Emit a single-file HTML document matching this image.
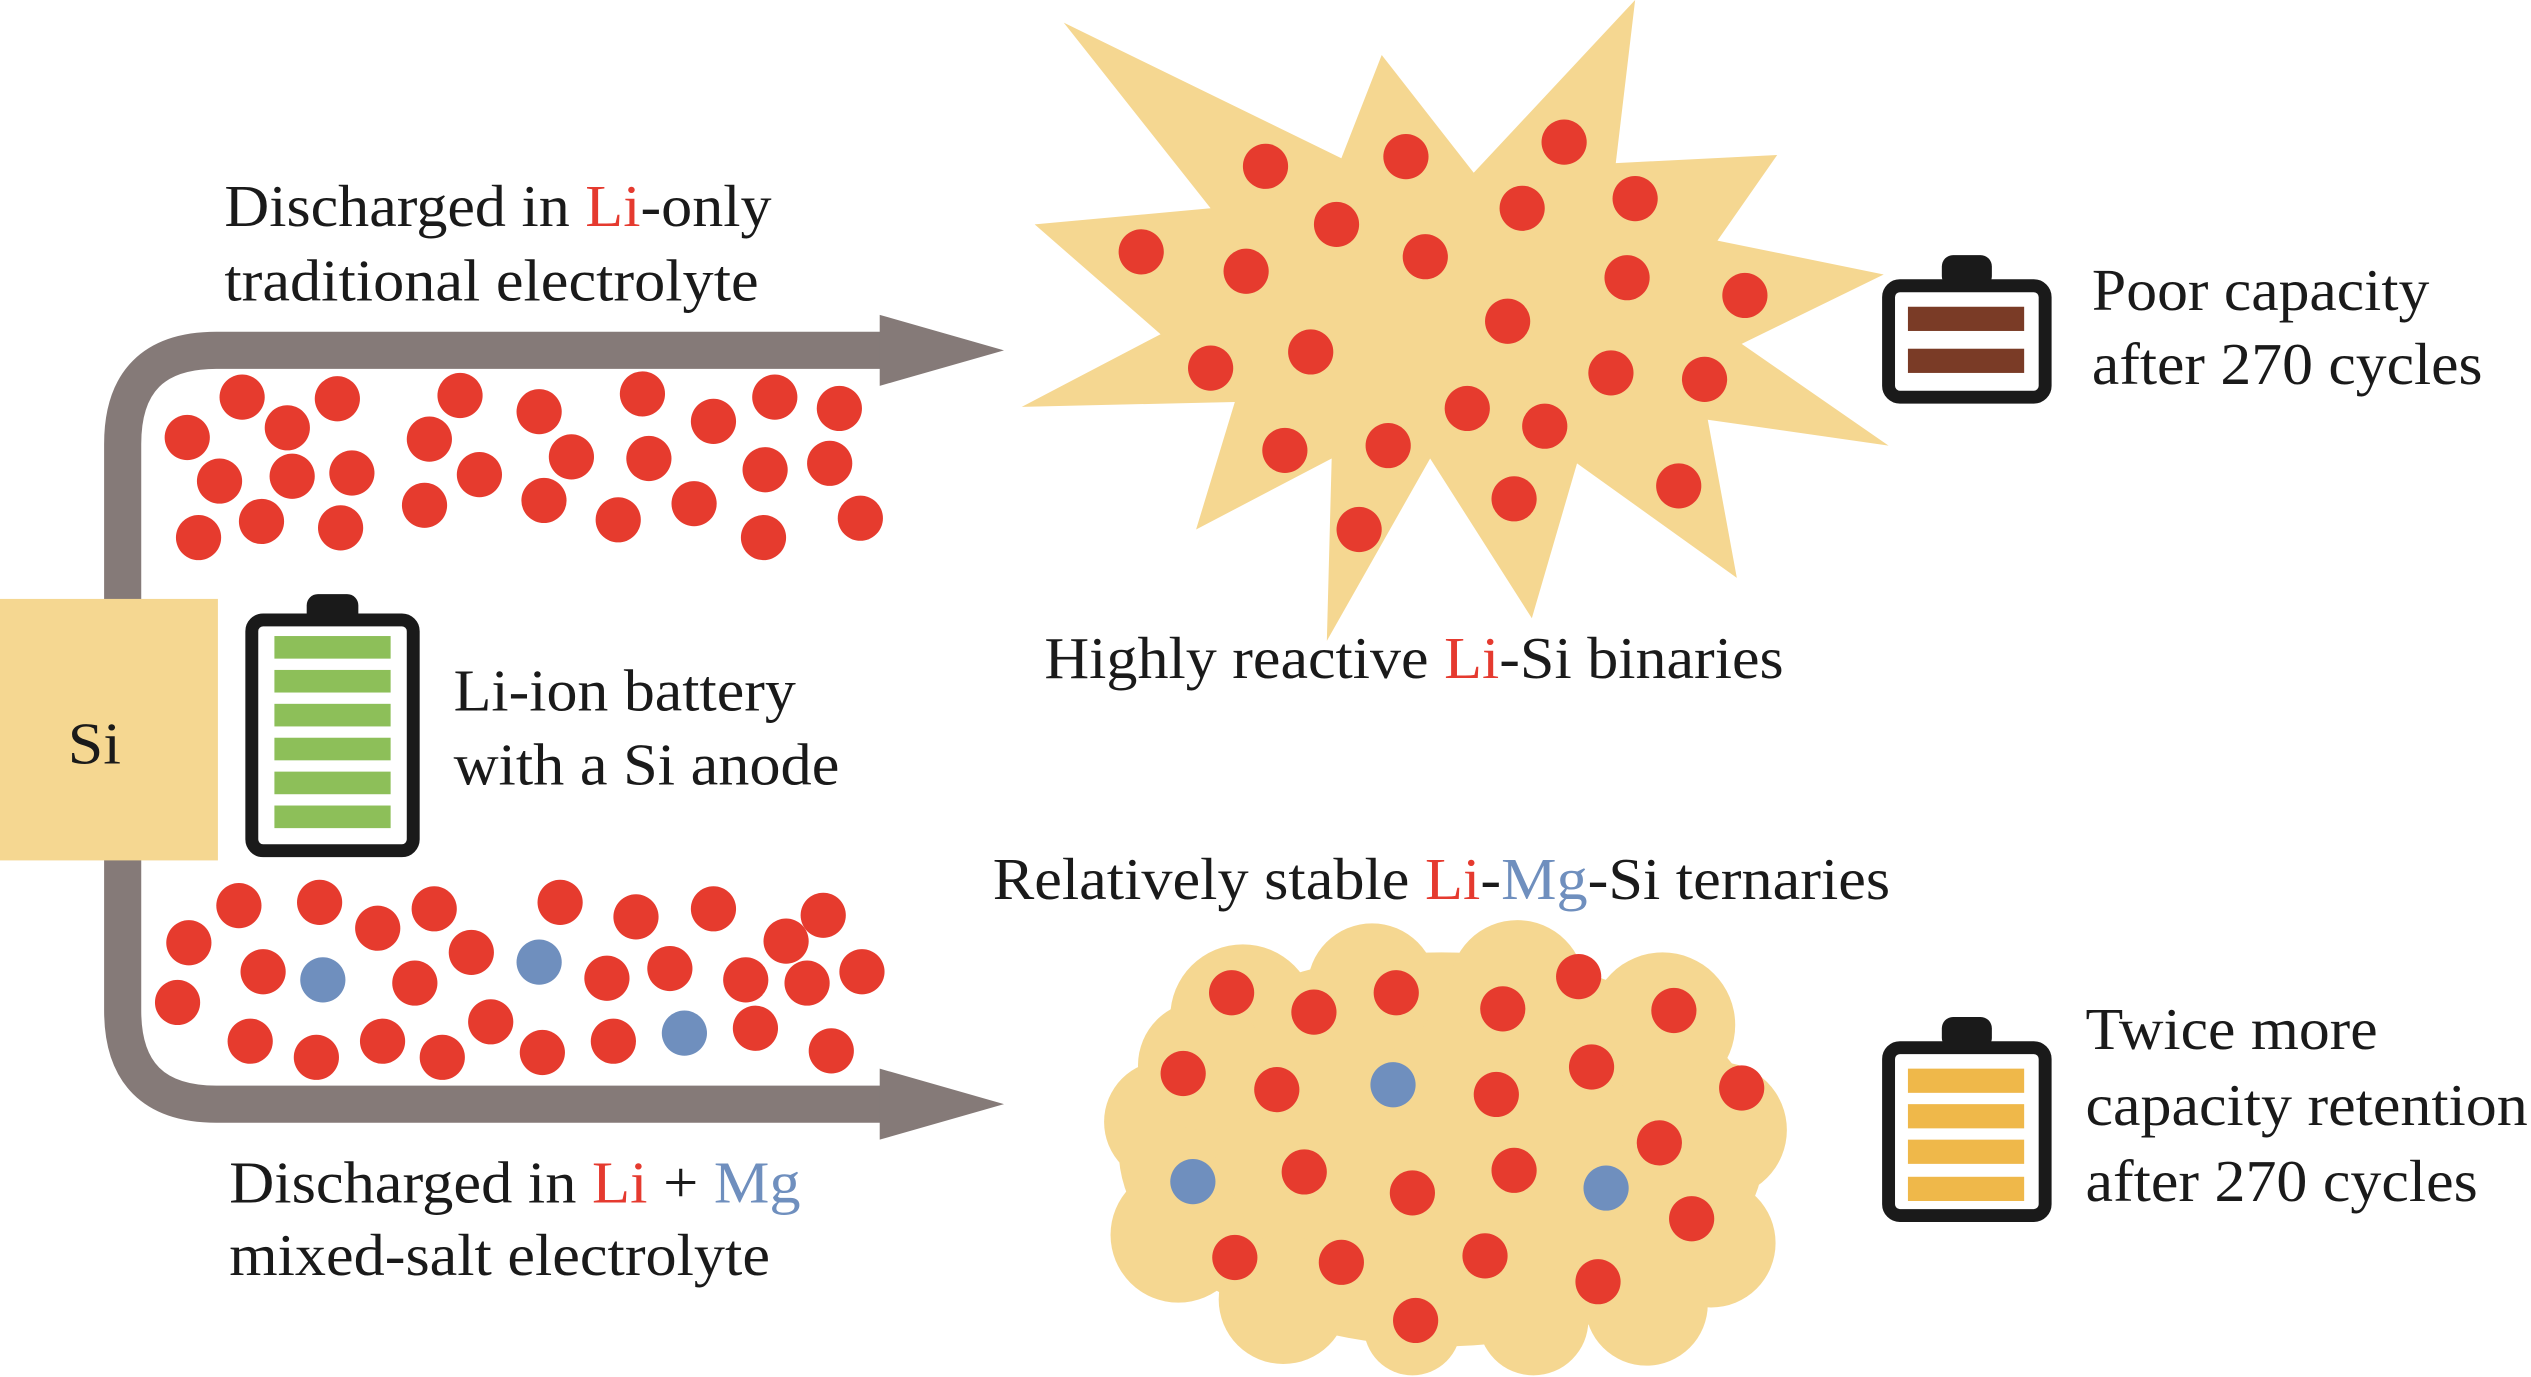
<!DOCTYPE html>
<html><head><meta charset="utf-8"><style>
html,body{margin:0;padding:0;background:#fff;width:2531px;height:1377px;overflow:hidden}
svg{display:block}
text{font-family:"Liberation Serif",serif;font-size:37px;fill:#1a1a1a}
.r{fill:#e53a2f}.b{fill:#6f8fbe}
</style></head><body>
<svg width="2531" height="1377" viewBox="0 0 1568 853" xmlns="http://www.w3.org/2000/svg">
<path d="M76 380 V275 Q76 217 134 217 H548 M548 684 H134 Q76 684 76 626 V520" fill="none" stroke="#857a78" stroke-width="23"/>
<polygon points="545,195 622,217 545,239" fill="#857a78"/>
<polygon points="545,662 622,684 545,706" fill="#857a78"/>
<rect x="0" y="371" width="135" height="162" fill="#f5d791"/>
<text x="42" y="473" font-size="35" textLength="33" lengthAdjust="spacingAndGlyphs">Si</text>
<rect x="190" y="368" width="32" height="20" rx="7" fill="#1a1a1a"/>
<rect x="156" y="384" width="100" height="143" rx="7" fill="#fff" stroke="#1a1a1a" stroke-width="8"/>
<g fill="#8dbf59">
<rect x="170" y="394" width="72" height="14"/><rect x="170" y="415" width="72" height="14"/><rect x="170" y="436" width="72" height="14"/><rect x="170" y="457" width="72" height="14"/><rect x="170" y="478" width="72" height="14"/><rect x="170" y="499" width="72" height="14"/>
</g>
<text x="281" y="440" textLength="212" lengthAdjust="spacingAndGlyphs">Li-ion battery</text>
<text x="281" y="486" textLength="239" lengthAdjust="spacingAndGlyphs">with a Si anode</text>
<text x="139" y="140" textLength="339" lengthAdjust="spacingAndGlyphs">Discharged in <tspan class="r">Li</tspan>-only</text>
<text x="139" y="186" textLength="331" lengthAdjust="spacingAndGlyphs">traditional electrolyte</text>
<text x="142" y="745" textLength="354" lengthAdjust="spacingAndGlyphs">Discharged in <tspan class="r">Li</tspan> + <tspan class="b">Mg</tspan></text>
<text x="142" y="790" textLength="335" lengthAdjust="spacingAndGlyphs">mixed-salt electrolyte</text>
<g fill="#e63b2e">
<circle cx="150" cy="246" r="14"/><circle cx="209" cy="247" r="14"/><circle cx="178" cy="265" r="14"/><circle cx="116" cy="271" r="14"/><circle cx="136" cy="298" r="14"/><circle cx="181" cy="295" r="14"/><circle cx="218" cy="293" r="14"/><circle cx="123" cy="333" r="14"/><circle cx="162" cy="323" r="14"/><circle cx="211" cy="327" r="14"/><circle cx="285" cy="245" r="14"/><circle cx="334" cy="255" r="14"/><circle cx="266" cy="272" r="14"/><circle cx="297" cy="294" r="14"/><circle cx="354" cy="283" r="14"/><circle cx="263" cy="313" r="14"/><circle cx="337" cy="310" r="14"/><circle cx="383" cy="322" r="14"/><circle cx="398" cy="244" r="14"/><circle cx="442" cy="261" r="14"/><circle cx="402" cy="284" r="14"/><circle cx="430" cy="312" r="14"/><circle cx="480" cy="246" r="14"/><circle cx="520" cy="253" r="14"/><circle cx="474" cy="291" r="14"/><circle cx="514" cy="287" r="14"/><circle cx="473" cy="333" r="14"/><circle cx="533" cy="321" r="14"/>
<circle cx="148" cy="561" r="14"/><circle cx="198" cy="559" r="14"/><circle cx="117" cy="584" r="14"/><circle cx="234" cy="575" r="14"/><circle cx="269" cy="563" r="14"/><circle cx="292" cy="590" r="14"/><circle cx="163" cy="602" r="14"/><circle cx="257" cy="609" r="14"/><circle cx="110" cy="621" r="14"/><circle cx="155" cy="645" r="14"/><circle cx="196" cy="655" r="14"/><circle cx="237" cy="645" r="14"/><circle cx="274" cy="655" r="14"/><circle cx="304" cy="633" r="14"/><circle cx="347" cy="559" r="14"/><circle cx="376" cy="606" r="14"/><circle cx="336" cy="652" r="14"/><circle cx="394" cy="568" r="14"/><circle cx="415" cy="600" r="14"/><circle cx="380" cy="645" r="14"/><circle cx="442" cy="563" r="14"/><circle cx="487" cy="583" r="14"/><circle cx="510" cy="567" r="14"/><circle cx="462" cy="607" r="14"/><circle cx="500" cy="609" r="14"/><circle cx="534" cy="602" r="14"/><circle cx="468" cy="637" r="14"/><circle cx="515" cy="651" r="14"/>
</g>
<g fill="#6f8fbe"><circle cx="200" cy="607" r="14"/><circle cx="334" cy="596" r="14"/><circle cx="424" cy="640" r="14"/></g>
<polygon fill="#f5d791" points="659,14 831,98 856,34 913,107 1013,0 1001,101 1101,96 1064,149 1167,170 1079,213 1170,276 1058,260 1076,358 977,287 949,383 886,284 822,397 825,284 741,328 765,249 633,252 719,207 641,139 750,129"/>
<g fill="#e63b2e">
<circle cx="784" cy="103" r="14"/><circle cx="871" cy="97" r="14"/><circle cx="969" cy="88" r="14"/><circle cx="828" cy="139" r="14"/><circle cx="883" cy="159" r="14"/><circle cx="943" cy="129" r="14"/><circle cx="1013" cy="123" r="14"/><circle cx="707" cy="156" r="14"/><circle cx="772" cy="168" r="14"/><circle cx="1008" cy="172" r="14"/><circle cx="1081" cy="183" r="14"/><circle cx="934" cy="199" r="14"/><circle cx="812" cy="218" r="14"/><circle cx="750" cy="228" r="14"/><circle cx="998" cy="231" r="14"/><circle cx="1056" cy="235" r="14"/><circle cx="909" cy="253" r="14"/><circle cx="957" cy="264" r="14"/><circle cx="796" cy="279" r="14"/><circle cx="860" cy="276" r="14"/><circle cx="938" cy="309" r="14"/><circle cx="1040" cy="301" r="14"/><circle cx="842" cy="328" r="14"/>
</g>
<text x="647" y="420" textLength="458" lengthAdjust="spacingAndGlyphs">Highly reactive <tspan class="r">Li</tspan>-Si binaries</text>
<rect x="1203" y="158" width="31" height="20" rx="7" fill="#1a1a1a"/>
<rect x="1170" y="177" width="97" height="69" rx="7" fill="#fff" stroke="#1a1a1a" stroke-width="8"/>
<rect x="1182" y="190" width="72" height="15" fill="#7a3b26"/><rect x="1182" y="216" width="72" height="15" fill="#7a3b26"/>
<text x="1296" y="192" textLength="209" lengthAdjust="spacingAndGlyphs">Poor capacity</text>
<text x="1296" y="238" textLength="242" lengthAdjust="spacingAndGlyphs">after 270 cycles</text>
<text x="615" y="557" textLength="556" lengthAdjust="spacingAndGlyphs">Relatively stable <tspan class="r">Li</tspan>-<tspan class="b">Mg</tspan>-Si ternaries</text>
<g fill="#f5d791">
<ellipse cx="893" cy="712" rx="200" ry="122"/>
<circle cx="770" cy="630" r="45"/><circle cx="850" cy="612" r="40"/><circle cx="940" cy="612" r="42"/><circle cx="1030" cy="635" r="45"/><circle cx="1065" cy="700" r="42"/><circle cx="1060" cy="770" r="40"/><circle cx="1020" cy="808" r="38"/><circle cx="950" cy="818" r="34"/><circle cx="875" cy="822" r="30"/><circle cx="795" cy="805" r="40"/><circle cx="730" cy="765" r="42"/><circle cx="722" cy="695" r="38"/><circle cx="745" cy="660" r="40"/>
</g>
<g fill="#e63b2e">
<circle cx="763" cy="615" r="14"/><circle cx="814" cy="627" r="14"/><circle cx="865" cy="615" r="14"/><circle cx="931" cy="625" r="14"/><circle cx="978" cy="605" r="14"/><circle cx="1037" cy="626" r="14"/><circle cx="733" cy="665" r="14"/><circle cx="791" cy="675" r="14"/><circle cx="927" cy="678" r="14"/><circle cx="986" cy="661" r="14"/><circle cx="1079" cy="674" r="14"/><circle cx="1028" cy="708" r="14"/><circle cx="808" cy="726" r="14"/><circle cx="875" cy="739" r="14"/><circle cx="938" cy="725" r="14"/><circle cx="1048" cy="755" r="14"/><circle cx="765" cy="779" r="14"/><circle cx="831" cy="782" r="14"/><circle cx="920" cy="778" r="14"/><circle cx="990" cy="794" r="14"/><circle cx="877" cy="818" r="14"/>
</g>
<g fill="#6f8fbe"><circle cx="863" cy="672" r="14"/><circle cx="739" cy="732" r="14"/><circle cx="995" cy="736" r="14"/></g>
<rect x="1203" y="630" width="31" height="20" rx="7" fill="#1a1a1a"/>
<rect x="1170" y="649" width="97" height="104" rx="7" fill="#fff" stroke="#1a1a1a" stroke-width="8"/>
<g fill="#efb84a"><rect x="1182" y="662" width="72" height="15"/><rect x="1182" y="684" width="72" height="15"/><rect x="1182" y="706" width="72" height="15"/><rect x="1182" y="729" width="72" height="15"/></g>
<text x="1292" y="650" textLength="181" lengthAdjust="spacingAndGlyphs">Twice more</text>
<text x="1292" y="697" textLength="274" lengthAdjust="spacingAndGlyphs">capacity retention</text>
<text x="1292" y="744" textLength="243" lengthAdjust="spacingAndGlyphs">after 270 cycles</text>
</svg>
</body></html>
